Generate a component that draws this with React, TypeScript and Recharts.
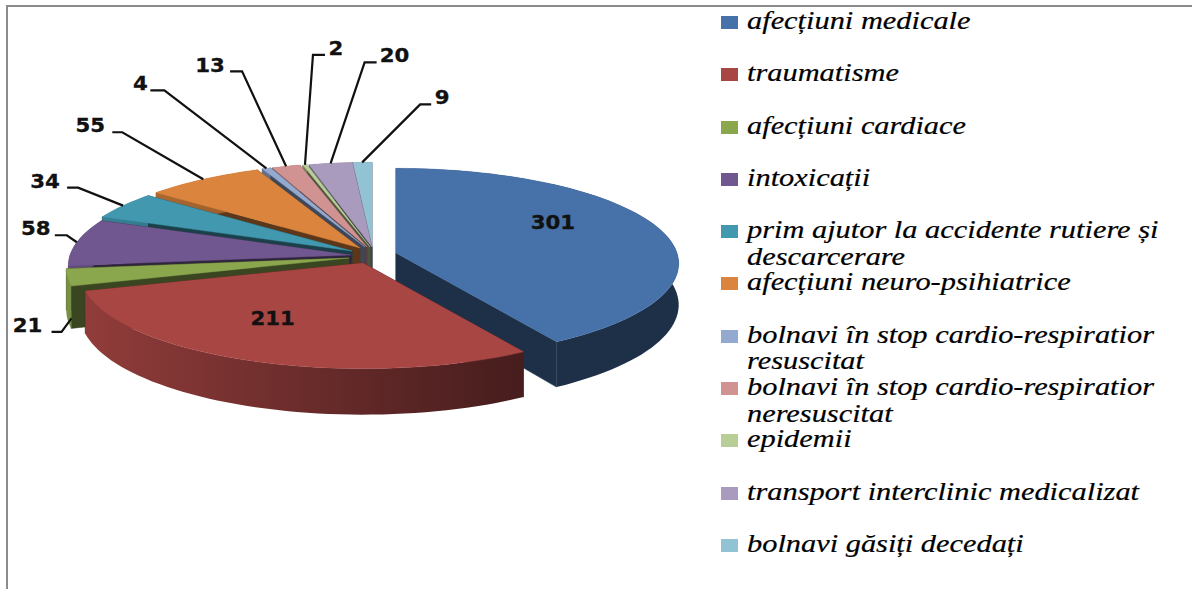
import React from 'react';
import { PieChart, Pie, Legend } from 'recharts';

const categories = [
  'afecțiuni medicale',
  'traumatisme',
  'afecțiuni cardiace',
  'intoxicații',
  'prim ajutor la accidente rutiere și descarcerare',
  'afecțiuni neuro-psihiatrice',
  'bolnavi în stop cardio-respiratior resuscitat',
  'bolnavi în stop cardio-respiratior neresuscitat',
  'epidemii',
  'transport interclinic medicalizat',
  'bolnavi găsiți decedați',
];
const values = [301, 211, 21, 58, 34, 55, 4, 13, 2, 20, 9];
const colors = ['#4672a9', '#a84644', '#8aa74e', '#71578f', '#4198af', '#db843d', '#93a9cf', '#d19392', '#b9cd96', '#a99bbd', '#92c3d4'];
const rows = categories.map((name, i) => ({ name, value: values[i] }));

// Layout only: painter's order, per-slice explosion, leader geometry.
const paintOrder = [10, 9, 8, 7, 6, 5, 4, 3, 2, 0, 1];
const baseX = 368;
const baseY = 254;
const explodeX = [28, -5, -19, -17, -16, -8, -3, -1, 2, 4, 4];
const explodeY = [-1, 9, 4, 1, -3, -6, -7, -7, -7, -7, -7];
const radiusX = 281;
const radiusY = 94;
const perspective = 0.11;
const depth = 41;
// [startDx, startDy, elbowDx, elbowDy, tail, textDx, textDy]
const leaders: number[][] = [
  [0, 0, 0, 0, 0, -106, -6],
  [0, 0, 0, 0, 0, 22, -42],
  [4, 41, -6, 54.5, -10, -34, -6],
  [0, 0, -10, -7, -12, -31, -7],
  [0, 0, -45, -18, -11, -33, -6],
  [0, 0, -81, -47, -10, -32, -7],
  [0, 0, -102, -78, -14, -24, -7],
  [0, 0, -44, -95, -12, -32, -6],
  [0, 0, 8, -110, 12, 23, -6],
  [0, 0, 34, -101, 12, 30, -7],
  [0, 0, 58, -58, 11, 22, -7],
];

const shade = (hex: string, f: number) => {
  const n = parseInt(hex.slice(1), 16);
  const c = [(n >> 16) & 255, (n >> 8) & 255, n & 255].map((v) => Math.round(v * f));
  return `rgb(${c[0]},${c[1]},${c[2]})`;
};

const project = (theta: number, cx: number, cy: number, rx: number) => {
  const t = (theta * Math.PI) / 180;
  const u = Math.sin(t);
  const v = -Math.cos(t);
  const s = 1 / (1 - perspective * v);
  return { x: cx + rx * u * s, y: cy + rx * (radiusY / radiusX) * v * s, s };
};

const poly = (pts: number[][]) => 'M' + pts.map((p) => `${p[0].toFixed(1)},${p[1].toFixed(1)}`).join('L') + 'Z';

const paintSlice = (only: number) => (props: any) => {
  const idx = categories.indexOf(props.name);
  if (idx !== only) return <g />;
  const color = colors[idx];
  const cx = props.cx + explodeX[idx];
  const cy = props.cy + explodeY[idx];
  const a0 = 90 - props.startAngle;
  const a1 = 90 - props.endAngle;
  const steps = Math.max(2, Math.ceil((a1 - a0) / 2));
  const arc: { x: number; y: number; s: number }[] = [];
  for (let i = 0; i <= steps; i++) arc.push(project(a0 + ((a1 - a0) * i) / steps, cx, cy, props.outerRadius));
  const first = arc[0];
  const last = arc[arc.length - 1];
  const wall = (p: { x: number; y: number; s: number }) =>
    poly([[cx, cy], [p.x, p.y], [p.x, p.y + depth * p.s], [cx, cy + depth]]);
  const outer = poly([
    ...arc.map((p) => [p.x, p.y]),
    ...arc.slice().reverse().map((p) => [p.x, p.y + depth * p.s]),
  ]);
  const top = poly([[cx, cy], ...arc.map((p) => [p.x, p.y])]);
  const dark = shade(color, 0.42);
  return (
    <g>
      <defs>
        <linearGradient id={`wall${idx}`} gradientUnits="userSpaceOnUse" x1={90} y1={0} x2={520} y2={0}>
          <stop offset="0" stopColor={shade(color, 0.86)} />
          <stop offset="0.5" stopColor={shade(color, 0.63)} />
          <stop offset="1" stopColor={shade(color, 0.42)} />
        </linearGradient>
      </defs>
      <path d={wall(first)} fill={dark} stroke={dark} strokeWidth={0.5} />
      <path d={wall(last)} fill={dark} stroke={dark} strokeWidth={0.5} />
      <path d={outer} fill={`url(#wall${idx})`} />
      <path d={top} fill={color} stroke={color} strokeWidth={0.4} />
    </g>
  );
};

const renderLabel = (props: any) => {
  const idx = categories.indexOf(props.name);
  const [sx, sy, ex, ey, tail, tx, ty] = leaders[idx];
  const edge = project(90 - props.midAngle, props.cx + explodeX[idx], props.cy + explodeY[idx], props.outerRadius);
  const elbowX = edge.x + ex;
  const elbowY = edge.y + ey;
  const hasLine = ex !== 0 || ey !== 0;
  const textX = hasLine ? elbowX + tx : edge.x + tx;
  const textY = hasLine ? elbowY + ty : edge.y + ty;
  return (
    <g>
      {hasLine && (
        <polyline
          points={`${edge.x + sx},${edge.y + sy} ${elbowX},${elbowY} ${elbowX + tail},${elbowY}`}
          fill="none"
          stroke="#111"
          strokeWidth={2.2}
        />
      )}
      <text
        transform={`translate(${textX} ${textY}) scale(1.12 1)`}
        textAnchor="middle"
        dominantBaseline="central"
        fontFamily="'DejaVu Sans', sans-serif"
        fontWeight={700}
        fontSize={19}
        fill="#111"
        stroke="#111"
        strokeWidth={0.3}
      >
        {props.value}
      </text>
    </g>
  );
};

const renderLegend = () => (
  <div style={{ display: 'flex', flexDirection: 'column' }}>
    {categories.map((name, i) => (
      <div key={name} style={{ height: 52.3, display: 'flex', alignItems: 'flex-start' }}>
        <span style={{ width: 17, height: 13, marginTop: 7, marginRight: 9, background: colors[i], flex: 'none' }} />
        <span
          style={{
            display: 'inline-block',
            width: 350,
            marginTop: -1,
            fontFamily: "'Liberation Serif', serif",
            fontStyle: 'italic',
            fontSize: 25,
            lineHeight: '26.5px',
            color: '#000',
            WebkitTextStroke: '0.2px #000',
            transform: 'scaleX(1.215)',
            transformOrigin: 'left top',
          }}
        >
          {name}
        </span>
      </div>
    ))}
  </div>
);

export default function App() {
  return (
    <div style={{ position: 'absolute', left: 0, top: 0, width: 1192, height: 589, background: '#fff', overflow: 'hidden' }}>
      <div
        style={{
          position: 'absolute',
          left: 6,
          top: 5,
          width: 1186,
          height: 584,
          borderTop: '2px solid #8c8c8c',
          borderLeft: '2px solid #8c8c8c',
          boxSizing: 'border-box',
        }}
      />
      <PieChart width={1192} height={589} margin={{ top: 0, right: 0, bottom: 0, left: 0 }}>
        {paintOrder.map((idx) => (
          <Pie
            key={idx}
            data={rows}
            dataKey="value"
            nameKey="name"
            cx={baseX}
            cy={baseY}
            outerRadius={radiusX}
            startAngle={90}
            endAngle={-270}
            stroke="none"
            legendType="none"
            isAnimationActive={false}
            shape={paintSlice(idx)}
          />
        ))}
        <Pie
          data={rows}
          dataKey="value"
          nameKey="name"
          cx={baseX}
          cy={baseY}
          outerRadius={radiusX}
          startAngle={90}
          endAngle={-270}
          legendType="none"
          isAnimationActive={false}
          shape={() => <g />}
          label={renderLabel}
          labelLine={false}
        />
        <Legend content={renderLegend} wrapperStyle={{ left: 721, top: 9, width: 450, height: 575 }} />
      </PieChart>
    </div>
  );
}
